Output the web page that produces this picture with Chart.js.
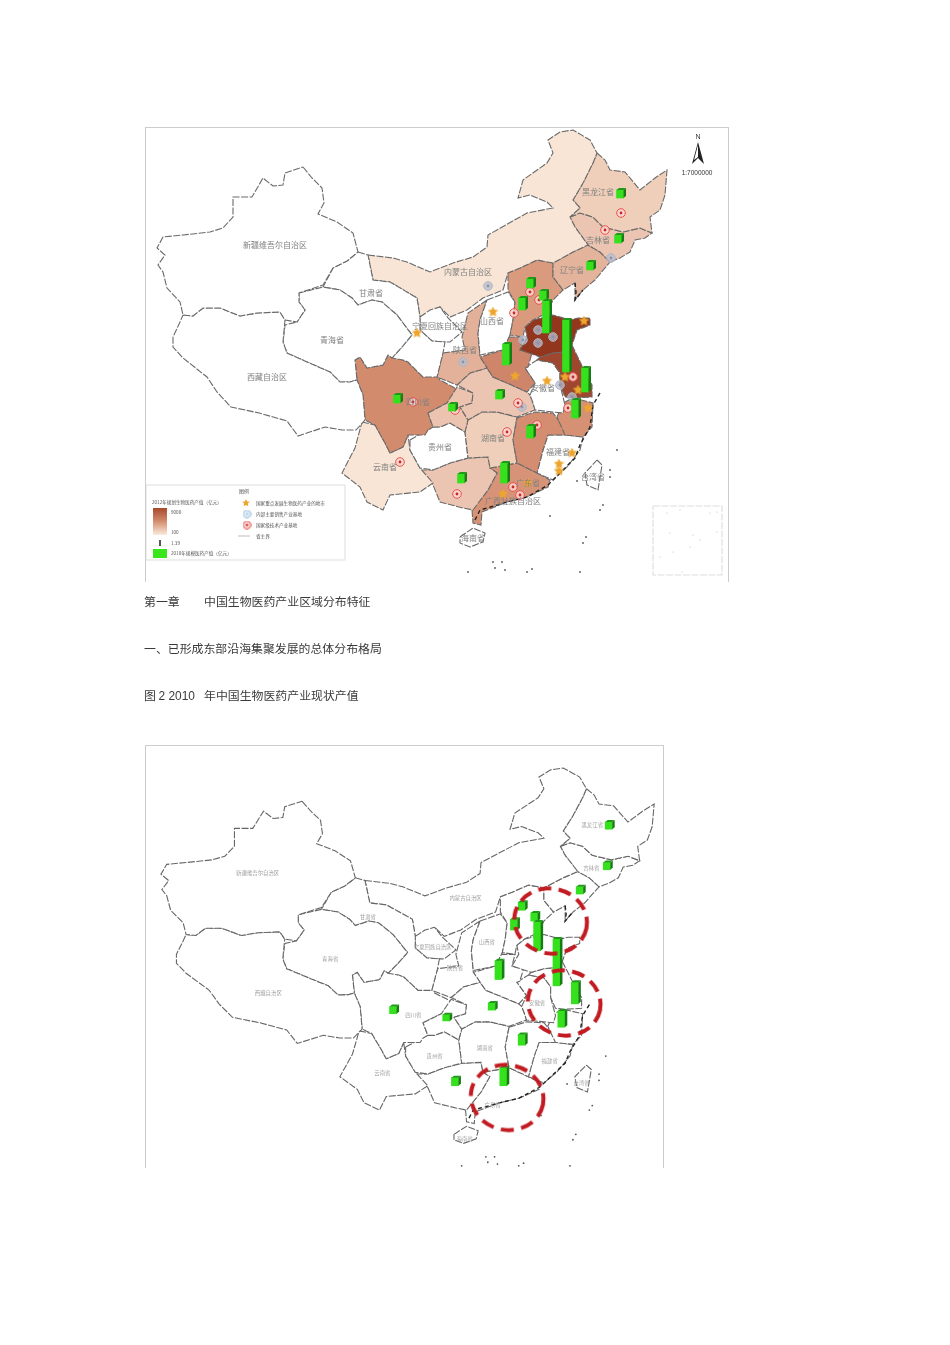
<!DOCTYPE html>
<html lang="zh">
<head>
<meta charset="utf-8">
<title>中国生物医药产业区域分布特征</title>
<script src="https://cdn.jsdelivr.net/npm/chart.js@4/dist/chart.umd.min.js"></script>
<style>
   html, body { margin: 0; padding: 0; background: #fff; }
   body { position: relative; width: 950px; height: 1345px; overflow: hidden; font-family: "Noto Sans CJK SC", sans-serif; }
   .map { position: absolute; box-sizing: border-box; border: 1px solid #ccc; border-bottom: 0; background: #fff; overflow: hidden; }
   .map canvas { position: absolute; left: -1px; top: -1px; filter: blur(0.7px); }
   #map1 { left: 145px; top: 127px; width: 584px; height: 455px; }
   #map2 { left: 145px; top: 745px; width: 519px; height: 423px; }
   .line { position: absolute; left: 144px; font-size: 11.9px; line-height: 16px; color: #3a3a3a; white-space: pre; filter: blur(0.25px); }
   .line span { position: absolute; top: 0; }
   .latin { font-family: "Liberation Sans", sans-serif; }
</style>
</head>
<body>
<div class="map" id="map1"><canvas id="chart1" width="584" height="455"></canvas></div>
<div class="line" style="top:593px">第一章<span style="left:60px">中国生物医药产业区域分布特征</span></div>
<div class="line" style="top:640px">一、已形成东部沿海集聚发展的总体分布格局</div>
<div class="line" style="top:687px">图 <span class="latin" style="position:static">2 2010</span><span style="left:60px">年中国生物医药产业现状产值</span></div>
<div class="map" id="map2"><canvas id="chart2" width="519" height="423"></canvas></div>

<script>
/* ---------------------------------------------------------------------------------*/
/* Data */
/* ---------------------------------------------------------------------------------*/

// Province outlines
const xinjiang = [[303,167],[312,178],[322,188],[324,203],[318,214],[337,222],[353,233],[358,252],[347,261],[333,268],[323,285],[299,293],[299,302],[305,310],[297,322],[285,320],[280,312],[257,313],[240,316],[220,308],[203,308],[193,316],[183,315],[180,302],[167,288],[163,272],[158,265],[165,255],[157,248],[163,237],[183,235],[210,232],[223,228],[233,217],[233,197],[252,197],[263,178],[273,186],[283,185],[285,173]];
const tibet = [[183,315],[193,316],[203,308],[220,308],[240,316],[257,313],[280,312],[285,320],[283,342],[287,353],[307,362],[330,372],[340,382],[350,382],[357,380],[363,395],[365,420],[356,430],[342,430],[325,427],[298,436],[287,421],[259,413],[231,407],[217,392],[207,377],[183,358],[173,347],[173,337],[180,322]];
const qinghai = [[299,293],[323,287],[340,290],[352,298],[358,305],[372,300],[382,302],[397,315],[412,335],[402,347],[392,358],[388,355],[383,365],[367,368],[360,357],[355,360],[357,380],[350,382],[340,382],[330,372],[307,362],[287,353],[283,342],[285,325],[297,322],[305,310],[299,302]];
const gansu = [[358,252],[368,255],[373,280],[390,282],[417,298],[420,317],[420,330],[432,341],[445,342],[443,353],[437,377],[423,377],[408,362],[403,360],[392,358],[402,347],[412,335],[397,315],[382,302],[372,300],[358,305],[352,298],[340,290],[323,287],[333,268],[347,261]];
const ningxia = [[420,317],[430,310],[440,307],[448,318],[462,332],[450,342],[445,342],[432,341],[420,330]];
const innerMongolia = [[368,255],[393,258],[407,262],[430,272],[453,263],[473,257],[487,247],[488,235],[527,213],[553,208],[547,202],[530,195],[518,198],[523,180],[547,163],[553,153],[548,140],[560,132],[573,130],[590,140],[597,153],[593,163],[583,183],[573,200],[580,208],[570,217],[575,227],[588,245],[573,252],[553,263],[537,260],[520,268],[508,273],[503,290],[483,298],[467,310],[450,317],[440,307],[420,317],[417,298],[390,282],[373,280]];
const heilongjiang = [[597,153],[605,160],[610,170],[625,172],[640,190],[655,178],[667,170],[665,195],[660,210],[650,217],[652,233],[640,228],[623,232],[603,227],[593,217],[580,213],[570,217],[580,208],[573,200],[583,183],[593,163]];
const jilin = [[570,217],[580,213],[593,217],[603,227],[623,232],[640,228],[652,233],[645,238],[635,240],[630,252],[620,258],[610,262],[600,252],[588,245],[575,227]];
const liaoning = [[588,245],[600,252],[610,262],[605,268],[595,280],[583,290],[575,300],[575,283],[563,290],[553,277],[553,263],[573,252]];
const hebei = [[508,273],[520,268],[537,260],[553,263],[553,277],[563,290],[553,300],[547,313],[533,320],[525,327],[523,337],[510,335],[513,320],[515,302],[508,290]];
const shanxi = [[487,300],[508,292],[515,302],[513,320],[510,335],[503,350],[480,355],[478,333],[480,320]];
const shaanxi = [[487,300],[468,313],[462,337],[465,350],[443,353],[437,377],[457,385],[470,373],[487,368],[480,357],[478,333],[480,320]];
const shandong = [[533,320],[553,315],[570,320],[578,318],[590,318],[590,325],[577,330],[572,345],[562,352],[553,353],[540,357],[520,350],[527,337],[525,327]];
const henan = [[508,337],[523,337],[520,350],[532,353],[528,367],[525,368],[535,383],[527,392],[507,383],[493,377],[487,368],[480,357],[503,350]];
const jiangsu = [[572,345],[583,368],[592,385],[592,397],[575,398],[565,397],[560,385],[560,373],[553,363],[537,360],[540,357],[553,353],[562,352]];
const anhui = [[525,368],[537,360],[553,363],[560,373],[560,385],[563,397],[565,405],[563,413],[553,412],[535,410],[533,403],[530,395],[535,383]];
const hubei = [[457,385],[470,373],[487,368],[493,377],[507,383],[527,392],[530,395],[533,403],[535,410],[517,417],[497,412],[482,412],[468,420],[460,407],[472,403],[473,393]];
const chongqing = [[428,413],[447,403],[457,387],[473,393],[472,403],[460,407],[468,420],[465,432],[450,423],[440,427],[433,427]];
const sichuan = [[355,360],[360,357],[367,368],[383,365],[388,355],[403,360],[408,362],[423,377],[437,375],[440,380],[453,387],[457,390],[447,403],[428,413],[433,427],[428,430],[425,435],[408,435],[403,447],[390,453],[385,443],[375,425],[365,420],[363,395],[357,380]];
const zhejiang = [[557,417],[563,403],[573,398],[593,403],[592,427],[583,437],[565,435]];
const jiangxi = [[517,418],[535,412],[553,413],[557,418],[567,435],[548,435],[543,450],[537,473],[517,463],[513,440]];
const fujian = [[548,435],[567,435],[583,437],[580,450],[567,467],[553,480],[537,473],[543,450]];
const hunan = [[468,420],[482,412],[497,412],[517,417],[513,440],[517,463],[490,468],[488,457],[468,458],[465,432]];
const guizhou = [[410,440],[433,427],[440,427],[450,423],[465,432],[468,458],[450,463],[433,470],[420,468],[410,450]];
const yunnan = [[362,422],[375,425],[385,443],[390,453],[403,447],[408,435],[410,450],[420,468],[433,483],[420,492],[390,495],[383,510],[367,502],[360,487],[342,473],[355,448]];
const guangxi = [[420,470],[433,470],[450,463],[468,458],[488,457],[490,468],[497,473],[488,490],[473,510],[463,508],[440,502],[433,485]];
const guangdong = [[490,468],[517,463],[537,473],[550,480],[548,487],[527,497],[507,502],[482,512],[481,525],[473,523],[472,510],[488,490],[497,473]];
const hainan = [[460,537],[473,528],[485,533],[483,542],[470,547],[460,543]];
const taiwan = [[597,460],[602,465],[598,490],[587,485],[585,473]];

const provinceOutlines = [xinjiang, tibet, qinghai, gansu, ningxia, innerMongolia, heilongjiang, jilin, liaoning, hebei, shanxi, shaanxi, shandong, henan, jiangsu, anhui, hubei, chongqing, sichuan, zhejiang, jiangxi, fujian, hunan, guizhou, yunnan, guangxi, guangdong, hainan, taiwan];

// 2012 output (亿元) for the shaded provinces, null = no data (white)
const provinceOutput = [null, null, null, null, null, 300, 1400, 1800, 2700, 3900, null, 2800, 9000, 4900, 8100, null, 1800, 1900, 4600, 4300, 4500, null, 1400, null, 300, 1800, 4200, null, null];

const coastLine = [[600,393],[593,405],[590,427],[580,445],[575,458],[563,470],[548,485],[527,497],[507,502],[480,510],[475,520]];
const liaodongCoast = [[575,283],[576,292],[575,300],[583,290]];

// 2010 output bars (map y of bar foot and head)
const barX = [620, 618, 590, 530, 543, 546, 522, 506, 566, 585, 575, 499, 397, 452, 530, 504, 461];
const map2BarX = [620, 618, 590, 530, 543, 546, 522, 506, 566, 585, 571, 499, 397, 452, 530, 511, 461];
const barBottom = [198, 243, 270, 288, 300, 333, 310, 365, 372, 392, 418, 399, 403, 411, 438, 483, 483];
const barTop = [190, 235, 262, 279, 291, 301, 298, 344, 320, 368, 400, 391, 395, 404, 426, 463, 474];

const starX = [493, 417, 584, 515, 547, 565, 578, 588, 572, 559, 559, 528, 503];
const starY = [312, 333, 321, 376, 381, 377, 390, 408, 453, 471, 464, 483, 494];
const targetX = [621, 605, 530, 539, 514, 518, 568, 413, 537, 400, 457, 513, 520, 455, 507, 573];
const targetY = [213, 230, 292, 300, 313, 403, 408, 402, 425, 462, 494, 487, 495, 410, 432, 377];
const baseX = [488, 611, 463, 522, 538, 553, 538, 523, 560, 572];
const baseY = [286, 258, 362, 407, 330, 337, 343, 340, 385, 397];

const seaX = [468, 493, 495, 502, 505, 527, 532, 580, 586, 583, 603, 600, 610, 610, 550, 577, 617];
const seaY = [572, 562, 568, 562, 570, 572, 569, 572, 537, 543, 505, 510, 470, 477, 516, 481, 450];
const insetX = [667, 680, 710, 717, 670, 693, 700, 690, 673, 682, 660, 717];
const insetY = [513, 510, 513, 512, 533, 535, 540, 547, 552, 572, 557, 532];

const map1Names = ['新疆维吾尔自治区', '甘肃省', '青海省', '西藏自治区', '内蒙古自治区', '宁夏回族自治区', '山西省', '陕西省', '四川省', '云南省', '贵州省', '湖南省', '安徽省', '福建省', '广东省', '广西壮族自治区', '海南省', '台湾省', '黑龙江省', '吉林省', '辽宁省'];
const map1NameX = [275, 371, 332, 267, 468, 440, 492, 465, 418, 385, 440, 493, 543, 558, 528, 513, 473, 593, 598, 598, 572];
const map1NameY = [245, 293, 340, 377, 272, 326, 321, 350, 402, 467, 447, 438, 388, 452, 483, 501, 538, 477, 192, 240, 270];

const map2Names = ['新疆维吾尔自治区', '青海省', '西藏自治区', '甘肃省', '云南省', '四川省', '贵州省', '湖南省', '福建省', '台湾省', '海南省', '广东省', '安徽省', '陕西省', '宁夏回族自治区', '山西省', '内蒙古自治区', '黑龙江省', '吉林省'];
const map2NameX = [257, 332, 268, 371, 386, 418, 440, 492, 559, 592, 471, 500, 546, 461, 438, 494, 472, 603, 602];
const map2NameY = [247, 342, 380, 296, 469, 404, 450, 441, 456, 480, 542, 504, 391, 352, 329, 323, 274, 193, 241];

// Cluster rings on the lower map
const ringX = [560, 574, 515];
const ringY = [300, 391, 496];

/* ---------------------------------------------------------------------------------*/
/* Marker images */
/* ---------------------------------------------------------------------------------*/

const newCanvas = (w, h) => {
   const c = document.createElement('canvas');
   c.width = w;
   c.height = h;
   return c;
};

const starImage = (size) => {
   const c = newCanvas(size, size);
   const g = c.getContext('2d');
   g.fillStyle = '#eea52c';
   g.beginPath();
   for (let i = 0; i < 10; i++) {
      const r = i % 2 ? size * 0.24 : size * 0.5;
      const a = -Math.PI / 2 + i * Math.PI / 5;
      g.lineTo(size / 2 + r * Math.cos(a), size / 2 + r * Math.sin(a));
   }
   g.closePath();
   g.fill();
   return c;
};

const targetImage = (size, ring, fill, dot) => {
   const c = newCanvas(size, size);
   const g = c.getContext('2d');
   g.beginPath();
   g.arc(size / 2, size / 2, size / 2 - 0.7, 0, Math.PI * 2);
   g.fillStyle = fill;
   g.fill();
   g.strokeStyle = ring;
   g.lineWidth = 1;
   g.stroke();
   g.beginPath();
   g.arc(size / 2, size / 2, size * 0.14, 0, Math.PI * 2);
   g.fillStyle = dot;
   g.fill();
   return c;
};

const ringImage = () => {
   const c = newCanvas(80, 72);
   const g = c.getContext('2d');
   g.beginPath();
   g.ellipse(40, 36, 36.5, 32.5, 0.2, 0, Math.PI * 2);
   g.strokeStyle = '#c21b22';
   g.lineWidth = 4;
   g.setLineDash([13, 7.5]);
   g.stroke();
   return c;
};

const northImage = () => {
   const c = newCanvas(14, 22);
   const g = c.getContext('2d');
   g.fillStyle = '#222';
   g.beginPath();
   g.moveTo(7, 0);
   g.lineTo(13, 22);
   g.lineTo(7, 16);
   g.lineTo(1, 22);
   g.closePath();
   g.fill();
   g.fillStyle = '#fff';
   g.beginPath();
   g.moveTo(7, 3);
   g.lineTo(3, 18);
   g.lineTo(7, 15);
   g.closePath();
   g.fill();
   return c;
};

/* ---------------------------------------------------------------------------------*/
/* Functions */
/* ---------------------------------------------------------------------------------*/

// Output value -> fill colour, same ramp as the legend
const shade = (value) => {
   if (value === null) return '#ffffff';
   const stops = [[251, 235, 220], [212, 141, 112], [146, 54, 30]];
   const t = value / 9000 * 2;
   const i = t >= 1 ? 1 : 0;
   const f = t - i;
   const rgb = [0, 1, 2].map(k => Math.round(stops[i][k] + (stops[i + 1][k] - stops[i][k]) * f));
   return `rgb(${rgb.join(',')})`;
};

const toPoints = (xs, ys) => xs.map((x, i) => ({ x, y: ys[i] }));

const outlineSet = (outline, fillColor, lineColor) => ({
   type: 'scatter',
   data: outline.concat([outline[0]]).map(p => ({ x: p[0], y: p[1] })),
   showLine: true,
   fill: 'shape',
   backgroundColor: fillColor,
   borderColor: lineColor,
   borderWidth: 1.1,
   borderDash: [7, 1.5],
   pointRadius: 0,
   order: 50
});

const coastSet = (line) => ({
   type: 'scatter',
   data: line.map(p => ({ x: p[0], y: p[1] })),
   showLine: true,
   borderColor: '#222',
   borderWidth: 1.4,
   borderDash: [4, 3],
   pointRadius: 0,
   order: 40
});

const markerSet = (xs, ys, image, order) => ({
   type: 'scatter',
   data: toPoints(xs, ys),
   pointStyle: image,
   pointRadius: 5,
   order
});

const speckSet = (xs, ys, color, radius) => ({
   type: 'scatter',
   data: toPoints(xs, ys),
   backgroundColor: color,
   borderWidth: 0,
   pointRadius: radius,
   order: 45
});

const barSet = (xs) => ({
   type: 'bar',
   data: xs.map((x, i) => ({ x, y: [barBottom[i], barTop[i]] })),
   backgroundColor: '#35e01c',
   barThickness: 7,
   grouped: false,
   order: 10
});

// Side and top faces of the green bars
const bar3d = {
   id: 'bar3d',
   afterDatasetDraw(chart, args) {
      const meta = args.meta;
      if (meta.type !== 'bar') return;
      const ctx = chart.ctx;
      meta.data.forEach(bar => {
         const left = bar.x - 3.5, right = bar.x + 3.5;
         const top = Math.min(bar.y, bar.base), bottom = Math.max(bar.y, bar.base);
         ctx.fillStyle = '#177d12';
         ctx.beginPath();
         ctx.moveTo(right, top);
         ctx.lineTo(right + 2.5, top - 2);
         ctx.lineTo(right + 2.5, bottom - 2);
         ctx.lineTo(right, bottom);
         ctx.closePath();
         ctx.fill();
         ctx.fillStyle = '#1f9a18';
         ctx.beginPath();
         ctx.moveTo(left, top);
         ctx.lineTo(left + 2.5, top - 2);
         ctx.lineTo(right + 2.5, top - 2);
         ctx.lineTo(right, top);
         ctx.closePath();
         ctx.fill();
      });
   }
};

// Province names, drawn through the scales
const mapLabels = {
   id: 'mapLabels',
   afterDatasetsDraw(chart, args, opts) {
      const ctx = chart.ctx;
      ctx.save();
      ctx.font = `${opts.size}px "Noto Sans CJK SC"`;
      ctx.fillStyle = opts.color;
      ctx.textAlign = 'center';
      ctx.textBaseline = 'middle';
      opts.names.forEach((name, i) => {
         ctx.fillText(name, chart.scales.x.getPixelForValue(opts.xs[i]), chart.scales.y.getPixelForValue(opts.ys[i]));
      });
      ctx.restore();
   }
};

// Legend box, north arrow text and scale of the upper map
const mapLegend = {
   id: 'mapLegend',
   afterDatasetsDraw(chart) {
      const ctx = chart.ctx;
      const px = v => chart.scales.x.getPixelForValue(v);
      const py = v => chart.scales.y.getPixelForValue(v);
      ctx.save();
      ctx.strokeStyle = '#ddd';
      ctx.strokeRect(px(146), py(485), 199, 75);

      const ramp = ctx.createLinearGradient(0, py(508), 0, py(535));
      ramp.addColorStop(0, '#a8492a');
      ramp.addColorStop(0.5, '#d48d70');
      ramp.addColorStop(1, '#fbebdc');
      ctx.fillStyle = ramp;
      ctx.fillRect(px(153), py(508), 14, 27);

      ctx.fillStyle = '#39e61c';
      ctx.fillRect(px(153), py(549), 14, 9);
      ctx.fillStyle = '#555';
      ctx.fillRect(px(159), py(540), 2, 6);

      ctx.strokeStyle = '#bbb';
      ctx.beginPath();
      ctx.moveTo(px(238), py(536));
      ctx.lineTo(px(250), py(536));
      ctx.stroke();

      ctx.textBaseline = 'middle';
      ctx.fillStyle = '#555';
      ctx.font = '5px "Noto Sans CJK SC"';
      ctx.fillText('图例', px(239), py(491));
      ctx.font = '4.6px "Noto Sans CJK SC"';
      ctx.fillText('2012年规划生物医药产值（亿元）', px(152), py(502));
      ctx.fillText('9000', px(171), py(512));
      ctx.fillText('100', px(171), py(532));
      ctx.fillText('1.39', px(171), py(543));
      ctx.fillText('2010年规模医药产值（亿元）', px(171), py(553));
      ctx.fillText('国家重点发展生物医药产业的地市', px(256), py(503));
      ctx.fillText('内部主要销售产业基地', px(256), py(514));
      ctx.fillText('国家级技术产业基地', px(256), py(525));
      ctx.fillText('省主界', px(256), py(536));

      ctx.fillStyle = '#333';
      ctx.textAlign = 'center';
      ctx.font = '7px "Liberation Sans"';
      ctx.fillText('N', px(698), py(137));
      ctx.font = '6.5px "Liberation Sans"';
      ctx.fillText('1:7000000', px(697), py(173));
      ctx.restore();
   }
};

const buildMap = (canvasId, xRange, yRange, sets, plugins, labelOptions) => new Chart(document.querySelector(canvasId), {
   type: 'scatter',
   data: { datasets: sets },
   plugins,
   options: {
      responsive: false,
      animation: false,
      events: [],
      layout: { autoPadding: false, padding: 0 },
      scales: {
         x: { type: 'linear', display: false, offset: false, min: xRange[0], max: xRange[1] },
         y: { type: 'linear', display: false, reverse: true, min: yRange[0], max: yRange[1] }
      },
      plugins: {
         legend: { display: false },
         tooltip: { enabled: false },
         mapLabels: labelOptions
      }
   }
});

/* ---------------------------------------------------------------------------------*/
/* Render the two maps */
/* ---------------------------------------------------------------------------------*/

const upperSets = [
   ...provinceOutlines.map((o, i) => outlineSet(o, shade(provinceOutput[i]), '#6a6a6a')),
   coastSet(coastLine),
   coastSet(liaodongCoast),
   speckSet(seaX, seaY, '#555', 0.9),
   speckSet(insetX, insetY, '#bbb', 0.6),
   outlineSet([[653, 506], [722, 506], [722, 575], [653, 575]], 'rgba(255,255,255,0)', '#ddd'),
   markerSet(baseX, baseY, targetImage(10, '#a9b6c8', 'rgba(185,190,205,0.75)', '#8b95a8'), 35),
   markerSet(targetX, targetY, targetImage(10, '#e8504a', 'rgba(250,215,210,0.85)', '#c8282a'), 30),
   markerSet(starX, starY, starImage(11), 20),
   barSet(barX),
   markerSet([698], [153], northImage(), 5),
   markerSet([246], [503], starImage(8), 2),
   markerSet([247], [514], targetImage(9, '#9cc3de', 'rgba(225,238,246,1)', '#b7d3e6'), 2),
   markerSet([247], [525], targetImage(9, '#e8504a', 'rgba(250,225,220,1)', '#c8282a'), 2)
];

const lowerSets = [
   ...provinceOutlines.map(o => outlineSet(o, '#ffffff', '#666')),
   coastSet(coastLine),
   coastSet(liaodongCoast),
   speckSet(seaX, seaY, '#555', 0.9),
   barSet(map2BarX),
   markerSet(ringX, ringY, ringImage(), 5)
];

buildMap('#chart1', [145, 729], [127, 582], upperSets, [bar3d, mapLabels, mapLegend],
   { names: map1Names, xs: map1NameX, ys: map1NameY, size: 8, color: '#808080' });

buildMap('#chart2', [140.5, 677.2], [104.4, 574.4], lowerSets, [bar3d, mapLabels],
   { names: map2Names, xs: map2NameX, ys: map2NameY, size: 5.4, color: '#a0a0a0' });
</script>
</body>
</html>
